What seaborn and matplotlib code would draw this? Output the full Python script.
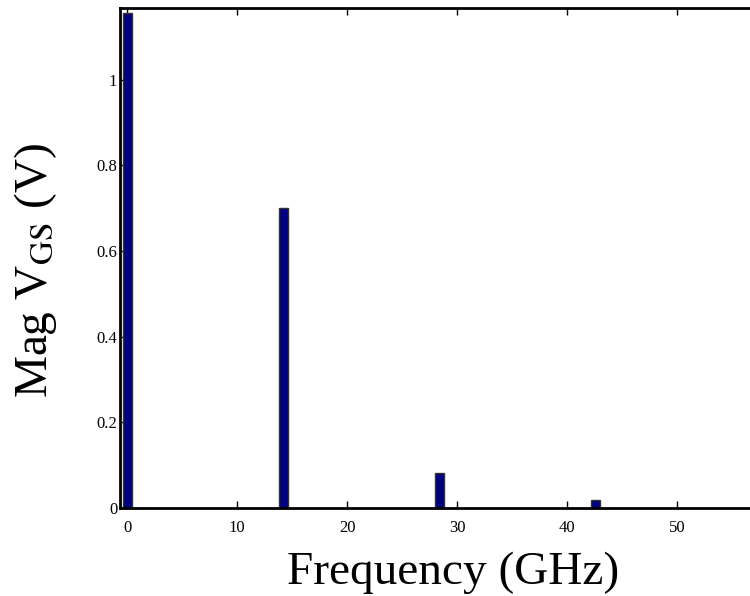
import matplotlib
matplotlib.use("Agg")
import matplotlib.pyplot as plt
import seaborn as sns
import pandas as pd
from matplotlib.ticker import FuncFormatter

freq_ghz = [0.0, 14.2, 28.4, 42.6]
mag_vgs = [1.156, 0.70, 0.082, 0.019]
x_ticks = [0, 10, 20, 30, 40, 50]
y_ticks = [0, 0.2, 0.4, 0.6, 0.8, 1.0]

sns.set_style("ticks")
plt.rcParams['font.family'] = ['Liberation Serif', 'DejaVu Serif']
plt.rcParams['mathtext.fontset'] = 'stix'
plt.rcParams['text.color'] = 'black'
plt.rcParams['axes.labelcolor'] = 'black'
plt.rcParams['xtick.color'] = 'black'
plt.rcParams['ytick.color'] = 'black'

df = pd.DataFrame({"freq": freq_ghz, "mag": mag_vgs})

fig = plt.figure(figsize=(7.5, 5.96), dpi=100)
ax = fig.add_axes([0.16, 0.148, 0.8896, 0.839])

sns.barplot(data=df, x="freq", y="mag", native_scale=True, width=0.8 / 14.2,
            color="#000080", saturation=1, edgecolor="#333333", linewidth=1, ax=ax)

ax.set_xlim(-0.66, 60.0)
ax.set_ylim(0, 1.168)
ax.set_xticks(x_ticks)
ax.set_yticks(y_ticks)
ax.yaxis.set_major_formatter(FuncFormatter(lambda v, p: f"{v:g}"))
ax.tick_params(direction="in", length=5, width=1, labelsize=12, top=True, right=False)
ax.tick_params(axis="x", pad=9)
ax.tick_params(axis="y", pad=2)
for s in ax.spines.values():
    s.set_visible(True)
    s.set_linewidth(2)
    s.set_color("black")

ax.set_xlabel("Frequency (GHz)", fontsize=34, labelpad=11)
ax.set_ylabel(r"Mag V$_{\mathrm{GS}}$ (V)", fontsize=34, labelpad=27)
ax.yaxis.label.set_y(0.474)

fig.savefig("out.png", dpi=100)
